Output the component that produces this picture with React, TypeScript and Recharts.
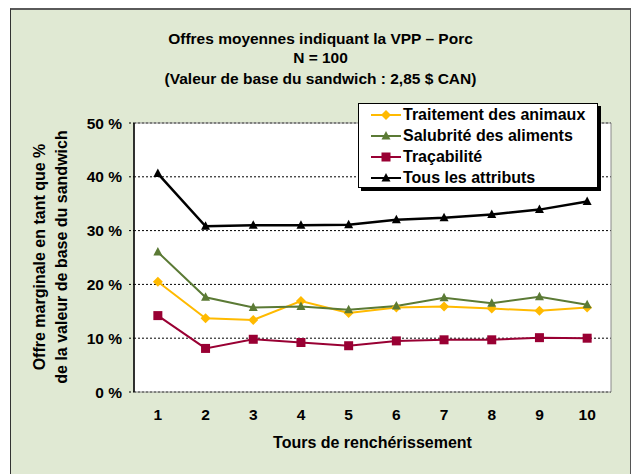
import { LineChart, Line, XAxis, YAxis, CartesianGrid, Legend, ReferenceArea } from 'recharts';

// Tours de renchérissement
const rounds = [1, 2, 3, 4, 5, 6, 7, 8, 9, 10];
// Offre marginale (% de la valeur de base du sandwich)
const traitement = [20.5, 13.7, 13.4, 16.9, 14.7, 15.7, 15.9, 15.5, 15.1, 15.7];
const salubrite = [26.0, 17.6, 15.7, 15.9, 15.3, 16.0, 17.5, 16.5, 17.7, 16.2];
const tracabilite = [14.2, 8.1, 9.8, 9.2, 8.6, 9.5, 9.7, 9.7, 10.1, 10.0];
const tousAttributs = [40.6, 30.8, 31.0, 31.0, 31.1, 32.0, 32.4, 33.0, 33.9, 35.4];
const yTicks = [0, 10, 20, 30, 40, 50];
const tickBounds = [0.5, 1.5, 2.5, 3.5, 4.5, 5.5, 6.5, 7.5, 8.5, 9.5, 10.5];

const titleLines = [
  'Offres moyennes indiquant la VPP – Porc',
  'N = 100',
  '(Valeur de base du sandwich : 2,85 $ CAN)',
];

const series = [
  { key: 'traitement', name: 'Traitement des animaux', color: '#FFBA00', shape: 'diamond' },
  { key: 'salubrite', name: 'Salubrité des aliments', color: '#5B7A35', shape: 'triangle' },
  { key: 'tracabilite', name: 'Traçabilité', color: '#990033', shape: 'square' },
  { key: 'tous', name: 'Tous les attributs', color: '#000000', shape: 'triangle' },
];

const data = rounds.map((r, i) => ({
  round: r,
  traitement: traitement[i],
  salubrite: salubrite[i],
  tracabilite: tracabilite[i],
  tous: tousAttributs[i],
}));

const font = '"Liberation Sans", Arial, sans-serif';

const Marker = ({ cx, cy, shape, color }: any) => {
  if (cx == null || cy == null) return null;
  if (shape === 'diamond') {
    return <polygon points={`${cx},${cy - 5} ${cx + 5},${cy} ${cx},${cy + 5} ${cx - 5},${cy}`} fill={color} />;
  }
  if (shape === 'square') {
    return <rect x={cx - 4.5} y={cy - 4.5} width={9} height={9} fill={color} />;
  }
  return <polygon points={`${cx},${cy - 5} ${cx + 4.5},${cy + 3.5} ${cx - 4.5},${cy + 3.5}`} fill={color} />;
};

const renderLegend = () => (
  <div
    style={{
      background: '#fff',
      border: '1px solid #000',
      boxShadow: '3px 3px 0 #000',
      fontFamily: font,
      fontWeight: 700,
      fontSize: 16,
      color: '#000',
      padding: '0 0 0 12px',
      boxSizing: 'border-box',
      width: 240,
      height: 85,
    }}
  >
    {series.map((s) => (
      <div key={s.key} style={{ display: 'flex', alignItems: 'center', height: 21 }}>
        <svg width={30} height={12} style={{ marginRight: 2 }}>
          <line x1={0} y1={6} x2={30} y2={6} stroke={s.color} strokeWidth={2} />
          <Marker cx={15} cy={6} shape={s.shape} color={s.color} />
        </svg>
        <span>{s.name}</span>
      </div>
    ))}
  </div>
);

export default function App() {
  return (
    <div style={{ position: 'absolute', left: 0, top: 0, width: 634, height: 474, overflow: 'hidden' }}>
      <div
        style={{
          position: 'absolute',
          left: 10,
          top: 8,
          width: 621,
          height: 480,
          background: '#E0E9D3',
          borderTop: '2px solid #5a5a5a',
          borderLeft: '1px solid #333',
          borderRight: '1px solid #555',
          boxSizing: 'border-box',
        }}
      />
      <LineChart width={634} height={474} data={data} margin={{ top: 123, right: 23, bottom: 52, left: 0 }}>
        <CartesianGrid vertical={false} stroke="#000" strokeDasharray="2 2" fill="#fff" />
        <ReferenceArea x1={0.5} x2={10.5} y1={0} y2={50} stroke="#8a8a8a" fill="none" />
        <XAxis
          xAxisId="marks"
          type="number"
          domain={[0.5, 10.5]}
          ticks={tickBounds}
          allowDataOverflow
          height={0}
          tickSize={5}
          tickFormatter={() => ''}
          axisLine={{ stroke: '#000', strokeWidth: 1.5 }}
          tickLine={{ stroke: '#000' }}
        />
        <XAxis
          dataKey="round"
          type="number"
          domain={[0.5, 10.5]}
          ticks={rounds}
          height={30}
          axisLine={false}
          tickLine={false}
          tickSize={6}
          tickMargin={10.5}
          tick={{ fill: '#000', fontSize: 15.5, fontWeight: 700, fontFamily: font }}
        />
        <YAxis
          domain={[0, 50]}
          ticks={yTicks}
          width={134}
          tickFormatter={(v) => `${v} %`}
          axisLine={{ stroke: '#000', strokeWidth: 1.5 }}
          tickLine={{ stroke: '#000', strokeDasharray: '2 2' }}
          tickSize={5}
          tickMargin={7}
          tick={{ fill: '#000', fontSize: 15.5, fontWeight: 700, fontFamily: font }}
        />
        <Legend
          layout="vertical"
          align="center"
          verticalAlign="middle"
          content={renderLegend}
          wrapperStyle={{ left: 358, top: 103, width: 243, height: 88 }}
        />
        {series.map((s) => (
          <Line
            key={s.key}
            dataKey={s.key}
            name={s.name}
            type="linear"
            stroke={s.color}
            strokeWidth={s.key === 'tous' ? 2.5 : 2}
            isAnimationActive={false}
            dot={(p: any) => <Marker key={`${s.key}-${p.index}`} cx={p.cx} cy={p.cy} shape={s.shape} color={s.color} />}
            activeDot={false}
          />
        ))}
      </LineChart>
      {titleLines.map((t, i) => (
        <div
          key={i}
          style={{
            position: 'absolute',
            left: 10,
            width: 621,
            top: [29, 48, 69][i],
            lineHeight: '20px',
            textAlign: 'center',
            fontFamily: font,
            fontWeight: 700,
            fontSize: 15.5,
            color: '#000',
          }}
        >
          {t}
        </div>
      ))}
      <div
        style={{
          position: 'absolute',
          left: 134,
          width: 477,
          top: 433,
          lineHeight: '20px',
          textAlign: 'center',
          fontFamily: font,
          fontWeight: 700,
          fontSize: 16,
          color: '#000',
        }}
      >
        Tours de renchérissement
      </div>
      <div
        style={{
          position: 'absolute',
          left: 51 - 170,
          top: 257 - 22,
          width: 340,
          height: 44,
          lineHeight: '22px',
          textAlign: 'center',
          transform: 'rotate(-90deg)',
          fontFamily: font,
          fontWeight: 700,
          fontSize: 16,
          color: '#000',
        }}
      >
        <div>Offre marginale en tant que %</div>
        <div>de la valeur de base du sandwich</div>
      </div>
    </div>
  );
}
